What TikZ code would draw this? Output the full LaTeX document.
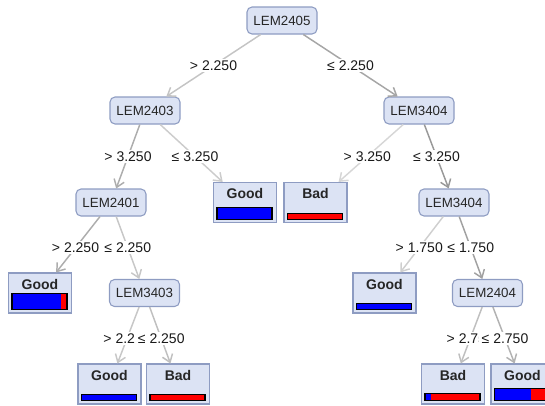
\documentclass[tikz,border=0pt]{standalone}
\usepackage{fontspec}
\setmainfont{Liberation Sans}
\usetikzlibrary{arrows.meta}
\definecolor{boxfill}{HTML}{DCE3F4}
\definecolor{boxborder}{HTML}{8E9CC2}
\definecolor{barblue}{HTML}{0000FF}
\definecolor{barred}{HTML}{FF0000}
\newcommand{\leafbar}[3]{%
  \begin{scope}[shift={(#1.south west)}]
    \fill[barred] (4,-4) rectangle (59,{-4-#2});
    \fill[barblue] (4,-4) rectangle ({4+55*#3},{-4-#2});
    \draw[line width=0.8pt] (4,-4) rectangle (59,{-4-#2});
  \end{scope}}
\begin{document}
\begin{tikzpicture}[x=0.75pt,y=-0.75pt,
  inner/.style={draw=boxborder, line width=0.8pt, fill=boxfill, rounded corners=3.75pt,
    minimum width=52.5pt, minimum height=20.25pt, inner sep=0pt,
    font=\fontsize{10}{12}\selectfont, text=black!85},
  leaf/.style={draw=boxborder, line width=0.8pt, fill=boxfill, minimum width=47.25pt,
    inner xsep=0pt, inner ysep=0pt, text height=12pt, text depth=18pt,
    font=\bfseries\fontsize{10.5}{12}\selectfont, text=black!85},
  edge/.style={line width=1.1pt, -{Straight Barb[length=5.5pt,width=8pt]}},
  lbl/.style={fill=white, inner xsep=2pt, inner ysep=1pt, font=\fontsize{10.5}{12}\selectfont, text=black!90}
]
\useasboundingbox (0,0) rectangle (545,405);
\clip (0,0) rectangle (545,405);

% internal nodes
\node[inner] (root)   at (282,20.5)  {LEM2405};
\node[inner] (n2403)  at (145,110.5) {LEM2403};
\node[inner] (n3404)  at (419,110.5) {LEM3404};
\node[inner] (n2401)  at (111,202.5) {LEM2401};
\node[inner] (n3404b) at (454,202.5) {LEM3404};
\node[inner] (n3403)  at (144.5,293) {LEM3403};
\node[inner] (n2404)  at (487.5,293) {LEM2404};

% leaves
\node[leaf] (g1) at (245,202.5) {Good};
\node[leaf] (b1) at (315.5,202.5) {Bad};
\node[leaf] (g2) at (40,293) {Good};
\node[leaf] (g3) at (384.5,293) {Good};
\node[leaf] (g4) at (109.5,384) {Good};
\node[leaf] (b2) at (178,384) {Bad};
\node[leaf] (b3) at (453,384) {Bad};
\node[leaf] (g5) at (522.5,384) {Good};

\leafbar{g1}{12}{1}
\leafbar{b1}{6}{0}
\leafbar{g2}{16}{0.89}
\leafbar{g3}{6}{1}
\leafbar{g4}{6}{1}
\leafbar{b2}{6}{0}
\leafbar{b3}{7}{0.11}
\leafbar{g5}{12}{0.66}

% edges
\draw[edge, draw=black!23] (root) -- (n2403);
\draw[edge, draw=black!35] (root) -- (n3404);
\draw[edge, draw=black!32] (n2403) -- (n2401);
\draw[edge, draw=black!20] (n2403) -- (g1);
\draw[edge, draw=black!16] (n3404) -- (b1);
\draw[edge, draw=black!40] (n3404) -- (n3404b);
\draw[edge, draw=black!32] (n2401) -- (g2);
\draw[edge, draw=black!22] (n2401) -- (n3403);
\draw[edge, draw=black!22] (n3403) -- (g4);
\draw[edge, draw=black!25] (n3403) -- (b2);
\draw[edge, draw=black!19] (n3404b) -- (g3);
\draw[edge, draw=black!37] (n3404b) -- (n2404);
\draw[edge, draw=black!25] (n2404) -- (b3);
\draw[edge, draw=black!30] (n2404) -- (g5);

% edge labels
\path (root.center) -- (n2403.center) node[lbl, pos=0.5] (l1) {> 2.250};
\path (root.center) -- (n3404.center) node[lbl, pos=0.5] (l2) {≤ 2.250};
\path (n2403.center) -- (n2401.center) node[lbl, pos=0.5] (l3) {> 3.250};
\path (n2403.center) -- (g1.center) node[lbl, pos=0.5] (l4) {≤ 3.250};
\path (n3404.center) -- (b1.center) node[lbl, pos=0.5] (l5) {> 3.250};
\path (n3404.center) -- (n3404b.center) node[lbl, pos=0.5] (l6) {≤ 3.250};
\path (n2401.center) -- (g2.center) node[lbl, pos=0.5] (l7) {> 2.250};
\path (n2401.center) -- (n3403.center) node[lbl, pos=0.5] (l8) {≤ 2.250};
\path (n3403.center) -- (g4.center) node[lbl, pos=0.5] (l9) {> 2.250};
\path (n3403.center) -- (b2.center) node[lbl, pos=0.5] (l10) {≤ 2.250};
\path (n3404b.center) -- (g3.center) node[lbl, pos=0.5] (l11) {> 1.750};
\path (n3404b.center) -- (n2404.center) node[lbl, pos=0.5] (l12) {≤ 1.750};
\path (n2404.center) -- (b3.center) node[lbl, pos=0.5] (l13) {> 2.750};
\path (n2404.center) -- (g5.center) node[lbl, pos=0.5] (l14) {≤ 2.750};
\end{tikzpicture}
\end{document}
